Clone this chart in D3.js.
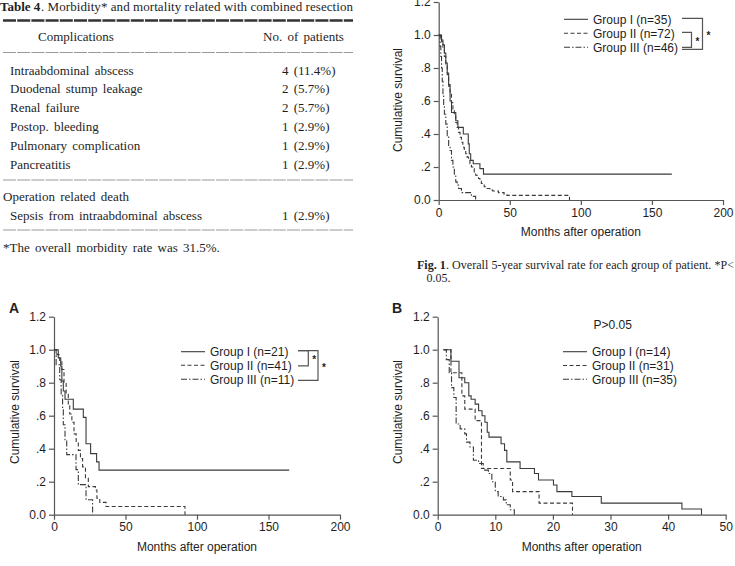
<!DOCTYPE html>
<html>
<head>
<meta charset="utf-8">
<script src="https://cdn.jsdelivr.net/npm/d3@7"></script>
<style>
  body { margin: 0; background: #fff; }
  svg { display: block; }
</style>
</head>
<body>
<svg width="735" height="566"></svg>
<script>
// ---- Table 4 ----
const complications = ["Intraabdominal abscess", "Duodenal stump leakage", "Renal failure",
  "Postop. bleeding", "Pulmonary complication", "Pancreatitis"];
const complicationCounts = ["4 (11.4%)", "2 (5.7%)", "2 (5.7%)", "1 (2.9%)", "1 (2.9%)", "1 (2.9%)"];
const deathCause = "Sepsis from intraabdominal abscess";
const deathCount = "1 (2.9%)";

// ---- shared axis ticks ----
const yTicks = [0, 0.2, 0.4, 0.6, 0.8, 1.0, 1.2];
const yTickLabels = ["0.0", ".2", ".4", ".6", ".8", "1.0", "1.2"];
const xTicksLong = [0, 50, 100, 150, 200];
const xTicksShort = [0, 10, 20, 30, 40, 50];

// ---- Fig. 1 : all patients ----
const fig1Legend = ["Group I (n=35)", "Group II (n=72)", "Group III (n=46)"];
const f1g1Month = [0, 2, 3, 4, 5, 6, 7, 8, 9, 12, 13.5, 17.3, 20.8, 21.5, 22.5, 24.3, 29, 31.5];
const f1g1Surv  = [1.0, 0.97, 0.94, 0.89, 0.83, 0.77, 0.69, 0.60, 0.53, 0.48, 0.44, 0.40, 0.34, 0.28, 0.24, 0.22, 0.19, 0.157];
const f1g2Month = [0, 1, 2, 3, 4, 5, 6, 7, 8, 9, 10, 11, 12, 13, 14, 15, 16, 17, 18, 19, 20, 21, 22, 23, 24, 25, 26, 27, 28, 29, 30, 32, 34, 36, 38, 42, 46, 48, 92];
const f1g2Surv  = [1.0, 0.99, 0.96, 0.92, 0.87, 0.82, 0.76, 0.70, 0.64, 0.59, 0.55, 0.51, 0.47, 0.44, 0.41, 0.38, 0.35, 0.32, 0.30, 0.28, 0.26, 0.24, 0.22, 0.20, 0.19, 0.17, 0.15, 0.14, 0.13, 0.12, 0.10, 0.08, 0.07, 0.06, 0.055, 0.045, 0.035, 0.028, 0];
const f1g3Month = [0, 1, 1.5, 2, 2.5, 3, 3.5, 4, 5, 6, 7, 8, 9, 10, 11, 12, 13, 14, 16, 23, 26];
const f1g3Surv  = [1.0, 0.93, 0.87, 0.80, 0.72, 0.63, 0.57, 0.52, 0.46, 0.39, 0.33, 0.30, 0.24, 0.20, 0.15, 0.11, 0.09, 0.07, 0.045, 0.022, 0];
const f1LastFollowUp = [164, null, null];

// ---- A ----
const aLegend = ["Group I (n=21)", "Group II (n=41)", "Group III (n=11)"];
const aG1Month = [0, 3, 4.7, 5.5, 6.5, 7.7, 13.5, 20.5, 22.4, 25.6, 29.8, 31.5];
const aG1Surv  = [1.0, 0.95, 0.90, 0.81, 0.75, 0.70, 0.64, 0.59, 0.43, 0.37, 0.32, 0.27];
const aG2Month = [0, 2, 4, 5.5, 7, 8.5, 10, 11, 12.5, 14, 15.5, 17, 18.5, 20, 22, 24, 29, 30, 32, 36.4, 91.6];
const aG2Surv  = [1.0, 0.97, 0.93, 0.88, 0.80, 0.73, 0.66, 0.61, 0.56, 0.49, 0.44, 0.39, 0.34, 0.29, 0.22, 0.17, 0.15, 0.10, 0.075, 0.05, 0];
const aG3Month = [0, 1.5, 4, 5, 6, 6.5, 7.7, 8.9, 15.4, 17, 22.4, 27];
const aG3Surv  = [1, 0.909, 0.818, 0.727, 0.636, 0.545, 0.455, 0.364, 0.273, 0.182, 0.091, 0];
const aLastFollowUp = [164.5, null, null];

// ---- B ----
const bLegend = ["Group I (n=14)", "Group II (n=31)", "Group III (n=35)"];
const bG1Month = [1, 2.3, 3.7, 4.7, 5.4, 5.8, 6.5, 7.1, 7.7, 8.2, 8.6, 8.9, 11.0, 11.6, 12.0, 14.3, 16.8, 17.5, 20.1, 20.7, 23.3, 28.4, 42.4, 45.8];
const bG1Surv  = [1.0, 0.93, 0.83, 0.80, 0.72, 0.70, 0.67, 0.63, 0.60, 0.56, 0.50, 0.47, 0.43, 0.39, 0.32, 0.28, 0.25, 0.21, 0.18, 0.14, 0.11, 0.07, 0.035, 0];
const bG2Month = [1, 2.3, 4.2, 4.7, 6.5, 7.6, 12.6, 13.0, 17.6, 23.4];
const bG2Surv  = [1.0, 0.86, 0.72, 0.64, 0.57, 0.28, 0.21, 0.14, 0.07, 0];
const bG3Month = [1, 1.5, 2.0, 2.4, 2.8, 3.2, 3.9, 4.7, 5.0, 5.6, 6.2, 7.1, 7.9, 8.8, 9.4, 10.0, 10.5, 11.4, 11.9, 12.6, 13.3];
const bG3Surv  = [1.0, 0.94, 0.86, 0.77, 0.71, 0.55, 0.52, 0.49, 0.44, 0.41, 0.33, 0.31, 0.27, 0.25, 0.20, 0.14, 0.11, 0.09, 0.06, 0.03, 0];

const groupDash = [null, "4,2.5", "6,2,1.5,2"];

const svg = d3.select("svg");
const serif = "'Liberation Serif','Times New Roman',serif";
const sans = "'Liberation Sans',Arial,sans-serif";
const ink = "#1e1e1e";

// ================= table =================
const tg = svg.append("g").attr("font-family", serif).attr("font-size", 13).attr("fill", ink);

tg.append("text").attr("x", 0).attr("y", 10.5).attr("font-weight", "bold").text("Table 4");
tg.append("text").attr("x", 41).attr("y", 10.5)
  .attr("textLength", 312).attr("lengthAdjust", "spacing")
  .text(". Morbidity* and mortality related with combined resection");

// rules
[[20.5, 2.4, "#333"], [52.5, 1, "#999"], [180, 1, "#999"], [230, 1, "#999"]].forEach(r => {
  tg.append("line").attr("x1", 3).attr("x2", 353).attr("y1", r[0]).attr("y2", r[0])
    .attr("stroke", r[2]).attr("stroke-width", r[1]).attr("stroke-dasharray", "13,1.2");
});

tg.append("text").attr("x", 38).attr("y", 41).attr("word-spacing", 2).text("Complications");
tg.append("text").attr("x", 263).attr("y", 41).attr("word-spacing", 2).text("No. of patients");

const rowY = d3.scaleLinear().domain([0, complications.length - 1]).range([74.5, 168.5]);
complications.forEach((c, i) => {
  tg.append("text").attr("x", 10).attr("y", rowY(i)).attr("word-spacing", 2).text(c);
  tg.append("text").attr("x", 282).attr("y", rowY(i)).attr("word-spacing", 2).text(complicationCounts[i]);
});
tg.append("text").attr("x", 3).attr("y", 201).attr("word-spacing", 2).text("Operation related death");
tg.append("text").attr("x", 10).attr("y", 220).attr("word-spacing", 2).text(deathCause);
tg.append("text").attr("x", 282).attr("y", 220).attr("word-spacing", 2).text(deathCount);
tg.append("text").attr("x", 3).attr("y", 252).attr("word-spacing", 2).text("*The overall morbidity rate was 31.5%.");

// caption of Fig. 1
const capG = svg.append("g").attr("font-family", serif).attr("font-size", 12).attr("fill", ink);
capG.append("text").attr("x", 417).attr("y", 269).attr("font-weight", "bold").text("Fig. 1");
capG.append("text").attr("x", 446).attr("y", 269).attr("textLength", 288).attr("lengthAdjust", "spacing")
  .text(". Overall 5-year survival rate for each group of patient. *P<");
capG.append("text").attr("x", 426.5).attr("y", 281.5).text("0.05.");

// ================= survival plots =================
function survPlot(cfg) {
  const g = svg.append("g").attr("font-family", sans).attr("font-size", 12).attr("fill", ink);
  const x = d3.scaleLinear().domain([0, cfg.xMax]).range([cfg.left, cfg.right]);
  const y = d3.scaleLinear().domain([0, 1.2]).range([cfg.bottom, cfg.top]);

  const xa = g.append("g").attr("transform", `translate(0,${cfg.bottom})`)
    .call(d3.axisBottom(x).tickValues(cfg.xTicks).tickSize(5).tickSizeOuter(0).tickPadding(3));
  const ya = g.append("g").attr("transform", `translate(${cfg.left},0)`)
    .call(d3.axisLeft(y).tickValues(yTicks).tickFormat((d, i) => yTickLabels[i])
      .tickSize(5).tickSizeOuter(0).tickPadding(3));
  [xa, ya].forEach(a => {
    a.selectAll("path,line").attr("stroke", "#555").attr("stroke-width", 1.2);
    a.selectAll("text").attr("font-family", sans).attr("font-size", 12).attr("fill", ink);
  });

  g.append("text").attr("x", (cfg.left + cfg.right) / 2).attr("y", cfg.bottom + 36)
    .attr("text-anchor", "middle").text("Months after operation");
  g.append("text").attr("transform", `translate(${cfg.yLabelX},${cfg.yLabelY}) rotate(-90)`)
    .attr("text-anchor", "middle").text("Cumulative survival");

  const line = d3.line().x(d => x(d[0])).y(d => y(d[1])).curve(d3.curveStepAfter);
  cfg.series.forEach((s, i) => {
    const pts = s.month.map((m, k) => [m, s.surv[k]]);
    if (s.end != null) pts.push([s.end, s.surv[s.surv.length - 1]]);
    g.append("path").datum(pts).attr("d", line).attr("fill", "none")
      .attr("stroke", "#3a3a3a").attr("stroke-width", 1.1)
      .attr("stroke-dasharray", groupDash[i]);
  });

  // legend
  cfg.legend.forEach((t, i) => {
    const ly = cfg.legendY[i];
    g.append("line").attr("x1", cfg.legendX).attr("x2", cfg.legendX + 24).attr("y1", ly).attr("y2", ly)
      .attr("stroke", "#3a3a3a").attr("stroke-width", 1.1).attr("stroke-dasharray", groupDash[i]);
    g.append("text").attr("x", cfg.legendX + 29).attr("y", ly + 4.3).text(t);
  });

  if (cfg.brackets) {
    cfg.brackets.forEach(b => {
      const y1 = cfg.legendY[b.from] - 1, y2 = cfg.legendY[b.to] + (b.drop || 0);
      g.append("path").attr("d", `M${b.x0},${y1}H${b.x1}V${y2}H${b.x0}`)
        .attr("fill", "none").attr("stroke", "#555").attr("stroke-width", 1.2);
      g.append("text").attr("x", b.x1 + 4).attr("y", (y1 + y2) / 2 + 5)
        .attr("font-size", 10).attr("font-weight", "bold").text("*");
    });
  }
  if (cfg.panel) {
    g.append("text").attr("x", cfg.panel[1]).attr("y", cfg.panel[2])
      .attr("font-size", 14).attr("font-weight", "bold").text(cfg.panel[0]);
  }
  return g;
}

survPlot({
  left: 438.7, right: 723, top: 2, bottom: 200, xMax: 200, xTicks: xTicksLong,
  yLabelX: 402, yLabelY: 100,
  series: [
    { month: f1g1Month, surv: f1g1Surv, end: f1LastFollowUp[0] },
    { month: f1g2Month, surv: f1g2Surv, end: f1LastFollowUp[1] },
    { month: f1g3Month, surv: f1g3Surv, end: f1LastFollowUp[2] }
  ],
  legend: fig1Legend, legendX: 564, legendY: [19.3, 33.3, 47.3],
  brackets: [
    { from: 1, to: 2, x0: 682, x1: 691.5, drop: 0 },
    { from: 0, to: 2, x0: 682, x1: 702.5, drop: 2 }
  ]
});

survPlot({
  left: 54, right: 340, top: 316.7, bottom: 514.7, xMax: 200, xTicks: xTicksLong,
  yLabelX: 19, yLabelY: 412,
  series: [
    { month: aG1Month, surv: aG1Surv, end: aLastFollowUp[0] },
    { month: aG2Month, surv: aG2Surv, end: aLastFollowUp[1] },
    { month: aG3Month, surv: aG3Surv, end: aLastFollowUp[2] }
  ],
  legend: aLegend, legendX: 181, legendY: [351.7, 365.3, 379.3],
  brackets: [
    { from: 0, to: 1, x0: 298, x1: 308.3, drop: 0.5 },
    { from: 0, to: 2, x0: 298, x1: 318, drop: 1 }
  ],
  panel: ["A", 9, 313]
});

const pB = survPlot({
  left: 437.7, right: 725.7, top: 316.7, bottom: 514.7, xMax: 50, xTicks: xTicksShort,
  yLabelX: 402, yLabelY: 412,
  series: [
    { month: bG1Month, surv: bG1Surv, end: null },
    { month: bG2Month, surv: bG2Surv, end: null },
    { month: bG3Month, surv: bG3Surv, end: null }
  ],
  legend: bLegend, legendX: 563, legendY: [351.7, 365.5, 379.3],
  panel: ["B", 392, 313]
});
pB.append("text").attr("x", 612.7).attr("y", 329.3).attr("text-anchor", "middle").text("P>0.05");
</script>
</body>
</html>
